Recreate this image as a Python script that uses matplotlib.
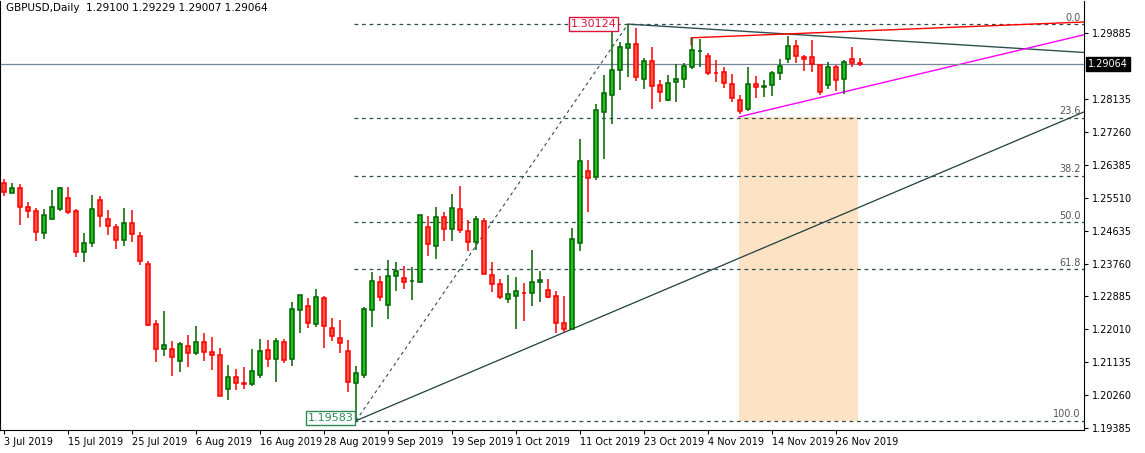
import matplotlib
matplotlib.use("Agg")
import matplotlib.pyplot as plt
import numpy as np
import pandas as pd

dates = pd.bdate_range("2019-07-03", periods=108)
opens = [1.2590,1.2564,1.2577,1.2526,1.2516,1.2457,1.2494,1.2521,1.2550,1.2516,
         1.2407,1.2431,1.2545,1.2494,1.2473,1.2439,1.2484,1.2449,1.2375,1.2215,
         1.2149,1.2149,1.2117,1.2157,1.2138,1.2168,1.2141,1.2133,1.2043,1.2074,
         1.2059,1.2056,1.2080,1.2146,1.2122,1.2168,1.2122,1.2253,1.2263,1.2215,
         1.2284,1.2205,1.2178,1.2144,1.2059,1.2080,1.2253,1.2327,1.2266,1.2343,
         1.2338,1.2329,1.2327,1.2473,1.2423,1.2500,1.2468,1.2521,1.2462,1.2433,
         1.2489,1.2346,1.2322,1.2282,1.2290,1.2298,1.2298,1.2327,1.2306,1.2290,
         1.2218,1.2202,1.2431,1.2622,1.2606,1.2779,1.2824,1.2890,1.2949,1.2960,
         1.2867,1.2914,1.2851,1.2811,1.2858,1.2867,1.2898,1.2941,1.2928,1.2883,
         1.2885,1.2853,1.2811,1.2787,1.2853,1.2845,1.2851,1.2883,1.2920,1.2954,
         1.2925,1.2925,1.2904,1.2851,1.2898,1.2867,1.2920,1.29100]
highs = [1.2601,1.2590,1.2588,1.2540,1.2524,1.2521,1.2572,1.2580,1.2580,1.2521,
         1.2457,1.2558,1.2556,1.2518,1.2481,1.2524,1.2518,1.2460,1.2383,1.2226,
         1.2250,1.2170,1.2168,1.2186,1.2210,1.2191,1.2181,1.2152,1.2106,1.2096,
         1.2101,1.2149,1.2175,1.2173,1.2178,1.2175,1.2274,1.2292,1.2284,1.2308,
         1.2290,1.2231,1.2226,1.2173,1.2104,1.2260,1.2353,1.2343,1.2385,1.2380,
         1.2370,1.2367,1.2505,1.2502,1.2526,1.2513,1.2561,1.2583,1.2492,1.2502,
         1.2497,1.2380,1.2335,1.2346,1.2340,1.2324,1.2412,1.2356,1.2335,1.2303,
         1.2290,1.2471,1.2707,1.2651,1.2800,1.2877,1.2991,1.2965,1.30124,1.3002,
         1.2922,1.2952,1.2864,1.2877,1.2906,1.2909,1.2976,1.2973,1.2936,1.2917,
         1.2898,1.2880,1.2824,1.2898,1.2874,1.2864,1.2888,1.2920,1.2981,1.2970,
         1.2930,1.2970,1.2904,1.2912,1.2904,1.2917,1.2952,1.29229]
lows = [1.2556,1.2564,1.2478,1.2497,1.2436,1.2441,1.2492,1.2516,1.2508,1.2393,
        1.2380,1.2420,1.2473,1.2452,1.2415,1.2423,1.2433,1.2372,1.2210,1.2114,
        1.2130,1.2077,1.2088,1.2101,1.2133,1.2117,1.2093,1.2024,1.2013,1.2040,
        1.2043,1.2051,1.2072,1.2101,1.2061,1.2112,1.2104,1.2191,1.2205,1.2207,
        1.2152,1.2170,1.2138,1.2035,1.19583,1.2072,1.2207,1.2276,1.2229,1.2303,
        1.2308,1.2279,1.2324,1.2396,1.2388,1.2436,1.2436,1.2457,1.2409,1.2412,
        1.2348,1.2300,1.2281,1.2271,1.2202,1.2223,1.2263,1.2274,1.2284,1.2191,
        1.2194,1.2202,1.2409,1.2513,1.2598,1.2654,1.2747,1.2837,1.2872,1.2861,
        1.2840,1.2787,1.2805,1.2808,1.2805,1.2843,1.2893,1.2898,1.2877,1.2859,
        1.2843,1.2805,1.2773,1.2781,1.2816,1.2819,1.2821,1.2864,1.2909,1.2909,
        1.2888,1.2885,1.2824,1.2840,1.2835,1.2827,1.2898,1.29007]
closes = [1.2566,1.2577,1.2526,1.2516,1.2460,1.2505,1.2526,1.2577,1.2513,1.2407,
          1.2431,1.2521,1.2502,1.2476,1.2439,1.2484,1.2455,1.2383,1.2213,1.2149,
          1.2160,1.2128,1.2162,1.2138,1.2168,1.2141,1.2133,1.2024,1.2074,1.2059,
          1.2056,1.2091,1.2144,1.2122,1.2170,1.2120,1.2255,1.2292,1.2218,1.2287,
          1.2210,1.2184,1.2165,1.2061,1.2085,1.2255,1.2329,1.2287,1.2343,1.2356,
          1.2327,1.2330,1.2505,1.2428,1.2500,1.2468,1.2524,1.2465,1.2433,1.2494,
          1.2348,1.2322,1.2287,1.2295,1.2303,1.2297,1.2327,1.2332,1.2287,1.2218,
          1.2202,1.2441,1.2649,1.2603,1.2784,1.2829,1.2890,1.2952,1.2960,1.2872,
          1.2914,1.2848,1.2832,1.2856,1.2867,1.2901,1.2944,1.2942,1.2883,1.2882,
          1.2856,1.2816,1.2781,1.2853,1.2845,1.2848,1.2883,1.2901,1.2954,1.2928,
          1.2920,1.2906,1.2832,1.2898,1.2864,1.2912,1.2909,1.29064]

fib_levels = [0.0, 23.6, 38.2, 50.0, 61.8, 100.0]
fib_high, fib_low = 1.30124, 1.19583
price_ticks = [1.29885, 1.28135, 1.27260, 1.26385, 1.25510, 1.24635, 1.23760,
               1.22885, 1.22010, 1.21135, 1.20260, 1.19385]
date_idx = list(range(0, 108, 8))
symbol_text = "GBPUSD,Daily  1.29100 1.29229 1.29007 1.29064"

fig = plt.figure(figsize=(11.45, 4.53), dpi=100)
ax = fig.add_axes([0.0, 23/453, 1084/1145, 429/453])
ymin, ymax = 1.19336, 1.30738
ax.set_ylim(ymin, ymax)
ax.set_xlim(-0.5, 135.0)

n = len(opens)
x = np.arange(n)
o = np.array(opens); c = np.array(closes); h = np.array(highs); l = np.array(lows)
up = c >= o
dark_green = "#006400"
for i in range(n):
    wc = dark_green if up[i] else "#ff0000"
    ax.vlines(x[i], l[i], h[i], color=wc, lw=1.1, zorder=3)
    bot = min(o[i], c[i]); ht = max(abs(c[i]-o[i]), 0.00012)
    ax.bar(x[i], ht, bottom=bot, width=0.62,
           color="#22c022" if up[i] else "#ff5544",
           edgecolor=wc, lw=1.1, zorder=4)

ax.add_patch(plt.Rectangle((91.9, fib_low), 106.75-91.9, 1.2766-fib_low,
                           color="#fde3c4", zorder=1, lw=0))

rng = fib_high - fib_low
for lv in fib_levels:
    p = fib_high - rng*lv/100
    ax.plot([43.8, 135], [p, p], ls=(0, (3, 3)), color="#2f4f4f", lw=0.9, zorder=2)
    ax.text(134.6, p + 0.0004, f"{lv:.1f}", ha="right", va="bottom", fontsize=7, color="#555555")
ax.plot([44, 78], [fib_low, fib_high], ls=(0, (3, 3)), color="#2f4f4f", lw=0.8, zorder=2)

ax.plot([44, 135], [fib_low, 1.2779], color="#1f3f3f", lw=0.9, zorder=2)
ax.plot([78, 135], [fib_high, 1.2937], color="#2f4f4f", lw=1.0, zorder=2)
ax.plot([85.9, 85.9, 135], [1.2958, 1.2976, 1.3018], color="#ff0000", lw=1.0, zorder=2)
ax.plot([91.9, 135], [1.2766, 1.2984], color="#ff00ff", lw=1.0, zorder=2)

ax.axhline(closes[-1], color="#778899", lw=0.9, zorder=2)

ax.text(43.7, fib_low + 0.0007, "1.19583", ha="right", va="center", fontsize=8, color="#2e8b57",
        bbox=dict(boxstyle="square,pad=0.15", fc="white", ec="#2e8b57", lw=1))
ax.text(76.6, fib_high, "1.30124", ha="right", va="center", fontsize=8, color="#dc143c",
        bbox=dict(boxstyle="square,pad=0.15", fc="white", ec="#dc143c", lw=1))
ax.text(0.3, ymax - 0.0005, symbol_text, ha="left", va="top", fontsize=7.5, color="black")

ax.yaxis.tick_right()
ax.set_yticks(price_ticks)
ax.set_yticklabels([f"{v:.5f}" for v in price_ticks], fontsize=7)
ax.tick_params(axis="y", length=3, pad=3)
ax.set_xticks(date_idx)
ax.set_xticklabels([f"{d.day} {d.strftime('%b %Y')}" for d in dates[date_idx]],
                   fontsize=7, ha="left")
ax.tick_params(axis="x", length=3, pad=2)
ax.spines["top"].set_visible(False)
ax.text(1.004, (closes[-1]-ymin)/(ymax-ymin), f"{closes[-1]:.5f}", transform=ax.transAxes,
        ha="left", va="center", fontsize=7, color="white",
        bbox=dict(boxstyle="square,pad=0.2", fc="black", ec="black"), zorder=10)
fig.savefig("out.png", dpi=100)
